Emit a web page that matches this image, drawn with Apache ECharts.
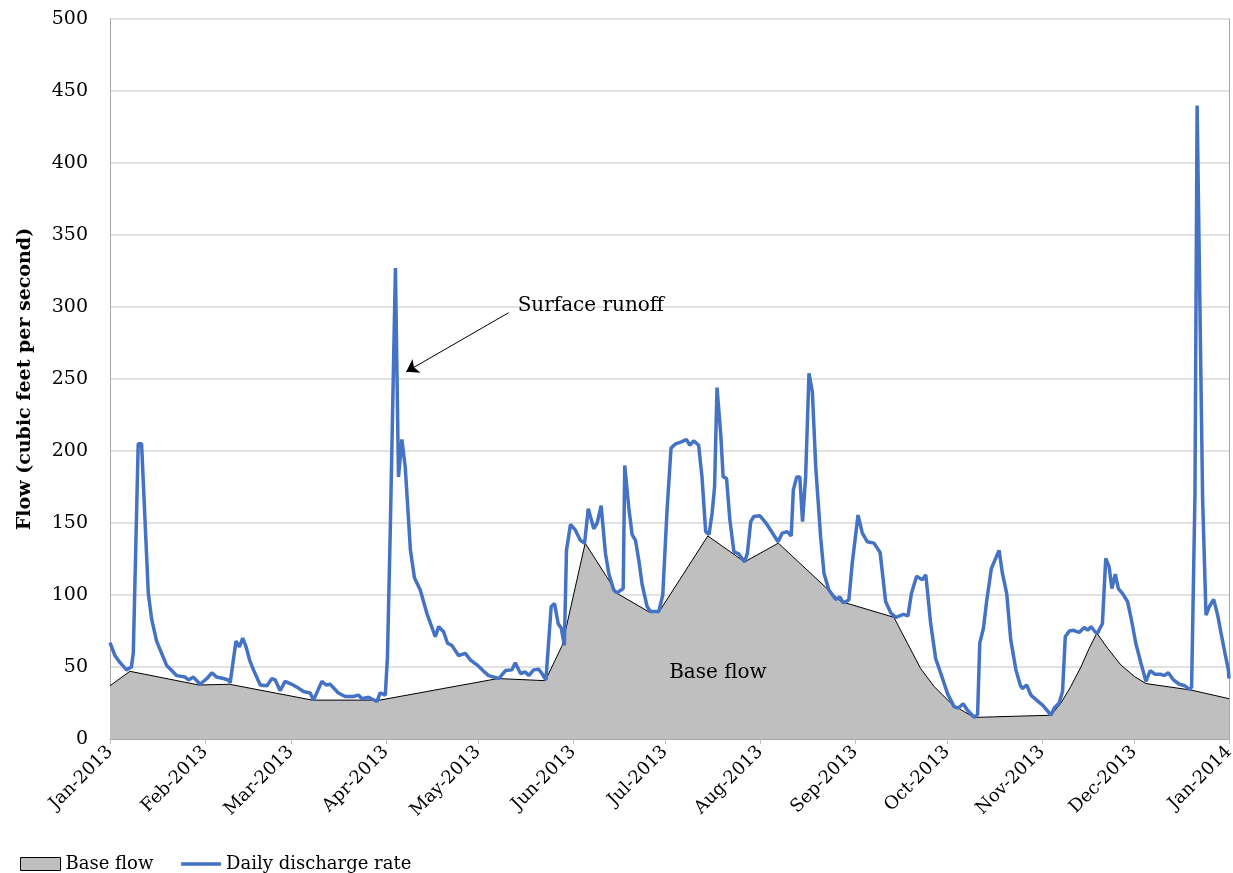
<!DOCTYPE html>
<html>
<head>
<meta charset="utf-8">
<title>Base flow and daily discharge</title>
<script src="https://cdn.jsdelivr.net/npm/echarts@6/dist/echarts.min.js"></script>
<style>
html, body { margin: 0; padding: 0; background: #fff; }
#chart { width: 1233px; height: 873px; }
</style>
</head>
<body>
<div id="chart"></div>
<script>
// x is the day of the year, counted from 1 Jan 2013
var monthStarts = [0, 31, 59, 90, 120, 151, 181, 212, 243, 273, 304, 334, 365];
var tickLabels = ['Jan-2013', 'Feb-2013', 'Mar-2013', 'Apr-2013', 'May-2013', 'Jun-2013',
	'Jul-2013', 'Aug-2013', 'Sep-2013', 'Oct-2013', 'Nov-2013', 'Dec-2013', 'Jan-2014'];

// daily discharge rate
var flowDays = [
	0, 1.6, 3.3, 5.4, 7, 7.6, 9.2, 10.3, 12.5, 13.6,
	15.2, 18.5, 21.8, 24.5, 25.6, 27.2, 29.4, 31.6, 33.2, 34.8,
	37, 38.6, 39.2, 41.1, 42.2, 43.3, 44.4, 45.5, 46.8, 49,
	51.2, 52.8, 53.9, 55.5, 57.1, 59.3, 61, 63.1, 65.3, 66.4,
	69.1, 70.5, 71.8, 74.5, 76.7, 79.4, 81, 82.2, 84.3, 87.1,
	88.1, 89.8, 90.5, 91.4, 93.1, 94.1, 95.2, 96.3, 98, 99.3,
	101.2, 103.4, 106.1, 107.2, 108.8, 110.1, 111.5, 113.7, 115.9, 117.5,
	119.7, 121.9, 123.5, 126.8, 129, 131.1, 132.2, 133.9, 135.5, 136.6,
	138.2, 139.8, 140.9, 142.2, 143.9, 145, 146.2, 147.2, 148.2, 148.9,
	150.2, 151.8, 153.4, 154.8, 156, 157.8, 158.9, 160.2, 161.6, 162.7,
	164.3, 165.4, 167.4, 167.9, 169.2, 170.3, 171.4, 172.5, 173.6, 175.2,
	176.3, 179, 180.3, 181.7, 183, 184.5, 186.6, 188, 189.1, 190.4,
	192, 193.1, 194.3, 195.4, 196.4, 197.2, 198, 199.2, 200, 201.1,
	202.2, 203.5, 205.1, 207, 207.9, 209, 210, 212, 213.8, 215.5,
	217.9, 219.3, 220.9, 222.2, 222.9, 224, 225, 225.9, 226.9, 228,
	229.1, 230.2, 231.8, 232.9, 234.5, 236.7, 238.1, 239.2, 241, 242.1,
	244, 245.4, 247, 249.2, 251.2, 253, 254.7, 256.3, 258.8, 260.3,
	261.4, 263.1, 265, 266.1, 267.7, 269.3, 271, 273.2, 275.3, 276.7,
	278.3, 279.7, 281.9, 283, 283.7, 284.9, 286, 287.5, 290, 291.1,
	292.5, 293.8, 295.5, 296.9, 297.6, 299, 300.4, 302.5, 304.2, 305.8,
	306.9, 308, 309.6, 310.7, 311.6, 312.9, 314.3, 316.1, 317.8, 318.9,
	320, 321.3, 322.1, 323.7, 324.8, 325.9, 326.8, 327.9, 328.9, 330.3,
	331.9, 333.2, 334.6, 336.3, 337.9, 339.3, 340.8, 342.6, 343.9, 345.2,
	346.9, 348.8, 350.6, 352, 352.8, 353.9, 354.6, 356.4, 357.5, 358.6,
	360, 361.3, 362.4, 363.7, 364.8, 365
];
var flowValues = [
	67, 58, 53, 48, 50, 60, 205, 205, 101, 83,
	68, 51, 44, 43, 41, 43, 38, 42, 46, 43,
	42, 41, 39, 68, 64, 70, 64, 55, 48, 37.5,
	37, 42, 41, 33.5, 40, 38, 36, 33, 32, 27,
	40, 37.5, 38, 32, 29.5, 29.5, 30.5, 28, 29, 26,
	32, 30.5, 57, 143, 327, 182, 208, 189, 131, 112,
	103.5, 87, 71, 78, 74.5, 66.5, 65, 58, 59.5, 55,
	51.5, 47, 44, 42, 47.5, 48, 53, 45.5, 46.5, 44,
	48, 48.5, 45.5, 41, 92, 94, 80, 77, 65, 131,
	149, 145, 138, 136, 160, 146, 150, 162, 129, 115,
	103.5, 101.5, 104.5, 190, 161, 142, 138, 124, 107, 92,
	88.5, 88.5, 100, 159, 202, 205, 206.5, 208, 204, 207,
	204, 182, 144, 142, 157, 175, 244, 212, 182, 181,
	152, 130, 128.5, 123, 129, 151, 154.5, 155, 150.5, 145,
	137, 143, 144, 141, 173, 182, 182, 151, 182, 254,
	241, 189, 140, 115, 103.5, 97, 98.5, 94.5, 96.5, 122,
	155.5, 143, 137, 136, 129.5, 95.5, 87.5, 84.5, 86.5, 85.5,
	101, 113, 110.5, 114, 80, 56, 45.5, 31.5, 22.5, 21.5,
	24.5, 20, 15, 17, 66.5, 77, 96.5, 118.5, 131, 115,
	101, 69, 48, 37.5, 35, 37.5, 30.5, 26.5, 23.5, 19.5,
	16.5, 21.5, 25, 33, 71, 75, 75.5, 74, 77.5, 75.5,
	78, 74.5, 73.5, 80, 125.5, 119.5, 104.5, 114.5, 104.5, 101,
	95.5, 82.5, 66.5, 52.5, 40, 47.5, 45, 45, 44, 46,
	41, 38, 37, 34.5, 36, 170, 440, 166, 86, 92,
	97, 86, 73.5, 59.5, 48, 42
];

// base flow outline
var baseDays = [0, 6.5, 29, 39, 66, 88, 124, 126.5, 142, 147.5,
	155, 165.5, 176, 179, 195, 207, 218, 238.4, 255.7, 260.1,
	264.4, 268.8, 274.2, 278.6, 281.9, 306.9, 310.2, 313.4, 316.7, 319.4,
	321.9, 325.4, 329.7, 334.1, 337.9, 352.6, 365];
var baseValues = [37, 47, 37.5, 38, 27, 27, 41, 42, 40.5, 65,
	136, 101, 88, 88, 141, 123, 136, 95.5, 84.5, 66.5,
	49, 36.5, 25, 19, 15, 16.5, 25, 36.5, 50, 63,
	73.5, 63, 51.5, 43.5, 38.5, 34, 28];

// annotations: [day, flow]
var arrowFrom = [130, 296];
var arrowTo = [96.6, 255];
var runoffLabelAt = [132.8, 301];
var baseLabelAt = [198.3, 46.2];

var font = 'DejaVu Serif';

function pairs(xs, ys) {
	return xs.map(function(x, i) { return [x, ys[i]]; });
}

var chart = echarts.init(document.getElementById('chart'));
var option = {
	animation: false,
	backgroundColor: '#fff',
	grid: { left: 110, right: 4, top: 19, bottom: 134, outerBoundsMode: 'none', containLabel: false },
	legend: {
		left: 15,
		top: 850,
		itemWidth: 40,
		itemHeight: 13,
		itemGap: 26,
		textStyle: { fontFamily: font, fontSize: 18, color: '#000' },
		data: [
			{ name: 'Base flow', icon: 'rect', itemStyle: { color: '#bfbfbf', borderColor: '#000', borderWidth: 1 } },
			{ name: 'Daily discharge rate', itemStyle: { opacity: 0 }, lineStyle: { color: '#4472c4', width: 3.5 } }
		]
	},
	xAxis: {
		type: 'value',
		min: 0,
		max: 365,
		splitLine: { show: false },
		axisLine: { show: true, lineStyle: { color: '#a6a6a6', width: 1 } },
		axisTick: { show: true, length: 5, customValues: monthStarts, lineStyle: { color: '#bfbfbf' } },
		axisLabel: {
			customValues: monthStarts,
			rotate: 45,
			margin: 10,
			fontFamily: font,
			fontSize: 18,
			color: '#000',
			formatter: function(v) {
				var i = monthStarts.indexOf(v);
				return i >= 0 ? tickLabels[i] : '';
			}
		}
	},
	yAxis: [{
		type: 'value',
		min: 0,
		max: 500,
		interval: 50,
		name: 'Flow (cubic feet per second)',
		nameLocation: 'middle',
		nameGap: 75,
		nameTextStyle: { fontFamily: font, fontSize: 19, fontWeight: 'bold', color: '#000' },
		axisLine: { show: true, lineStyle: { color: '#a6a6a6', width: 1 } },
		axisTick: { show: false },
		axisLabel: { fontFamily: font, fontSize: 19, color: '#000', margin: 22 },
		splitLine: { show: true, lineStyle: { color: '#d9d9d9', width: 1.5 } }
	}, {
		type: 'value',
		min: 0,
		max: 500,
		position: 'right',
		axisLine: { show: true, lineStyle: { color: '#a6a6a6', width: 1 } },
		axisTick: { show: false },
		axisLabel: { show: false },
		splitLine: { show: false }
	}],
	series: [{
		name: 'Base flow',
		type: 'line',
		symbol: 'none',
		z: 2,
		itemStyle: { color: '#bfbfbf' },
		lineStyle: { color: '#000', width: 1 },
		areaStyle: { color: '#bfbfbf', opacity: 1 },
		data: pairs(baseDays, baseValues),
		markPoint: {
			silent: true,
			symbol: 'rect',
			symbolSize: 1,
			itemStyle: { color: 'transparent' },
			label: { show: true, position: 'inside', fontFamily: font, fontSize: 20, color: '#000', formatter: 'Base flow' },
			data: [{ coord: baseLabelAt }]
		}
	}, {
		name: 'Daily discharge rate',
		type: 'line',
		symbol: 'none',
		z: 3,
		itemStyle: { color: '#4472c4' },
		lineStyle: { color: '#4472c4', width: 3.5 },
		data: pairs(flowDays, flowValues),
		markLine: {
			silent: true,
			symbol: ['none', 'arrow'],
			symbolSize: 12,
			label: { show: false },
			lineStyle: { color: '#000', width: 1, type: 'solid' },
			data: [[{ coord: arrowFrom }, { coord: arrowTo }]]
		},
		markPoint: {
			silent: true,
			symbol: 'rect',
			symbolSize: 1,
			itemStyle: { color: 'transparent' },
			label: { show: true, position: 'right', distance: 0, fontFamily: font, fontSize: 20, color: '#000', formatter: 'Surface runoff' },
			data: [{ coord: runoffLabelAt }]
		}
	}]
};
chart.setOption(option);
window.addEventListener('resize', chart.resize);
</script>
</body>
</html>
